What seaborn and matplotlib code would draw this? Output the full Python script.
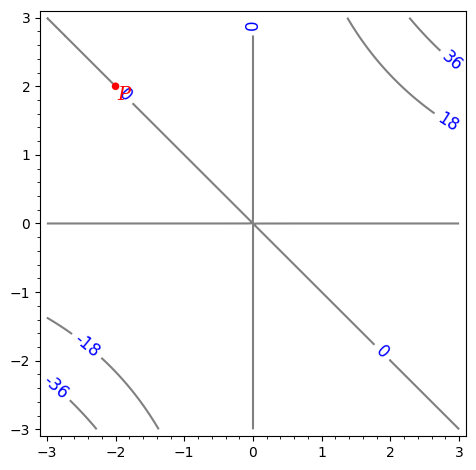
import numpy as np
import pandas as pd
import matplotlib
matplotlib.use('Agg')
import matplotlib.pyplot as plt
from matplotlib.ticker import AutoMinorLocator
import seaborn as sns

# Mức đường đồng mức và điểm P
levels = [-36, -18, 0, 18, 36]
point_x = [-2]
point_y = [2]
point_name = ['P']
x_range = [-3, 3]
y_range = [-3, 3]

# Vị trí đặt nhãn đồng mức
label_pos = [(0, 2.9), (-1.83, 1.9), (1.89, -1.87), (2.9, 2.36),
             (2.84, 1.48), (-2.4, -1.76), (-2.85, -2.37)]

x = np.linspace(x_range[0], x_range[1], 400)
y = np.linspace(y_range[0], y_range[1], 400)
X, Y = np.meshgrid(x, y)
Z = X * Y * (X + Y)

fig = plt.figure(figsize=(4.76, 4.70), dpi=100)
ax = fig.add_axes([0.084, 0.072, 0.895, 0.905])

cs = ax.contour(X, Y, Z, levels=levels, colors='#808080', linewidths=1.5,
                negative_linestyles='solid')
ax.clabel(cs, fmt='%d', colors='blue', fontsize=12, inline=True,
          inline_spacing=6, manual=label_pos)

df_p = pd.DataFrame({'x': point_x, 'y': point_y})
sns.scatterplot(data=df_p, x='x', y='y', color='red', s=30, ax=ax,
                edgecolor='none', zorder=5)
for px, py, name in zip(point_x, point_y, point_name):
    ax.text(px + 0.03, py - 0.12, name, color='red', fontsize=14,
            fontstyle='italic', family='DejaVu Serif', ha='left', va='center',
            zorder=6)

ax.set_xlim(-3.1, 3.1)
ax.set_ylim(-3.1, 3.1)
ax.set_xticks(range(-3, 4))
ax.set_yticks(range(-3, 4))
ax.xaxis.set_minor_locator(AutoMinorLocator(5))
ax.yaxis.set_minor_locator(AutoMinorLocator(5))
ax.set_xlabel('')
ax.set_ylabel('')

plt.savefig('out.png', dpi=100)
plt.close()
